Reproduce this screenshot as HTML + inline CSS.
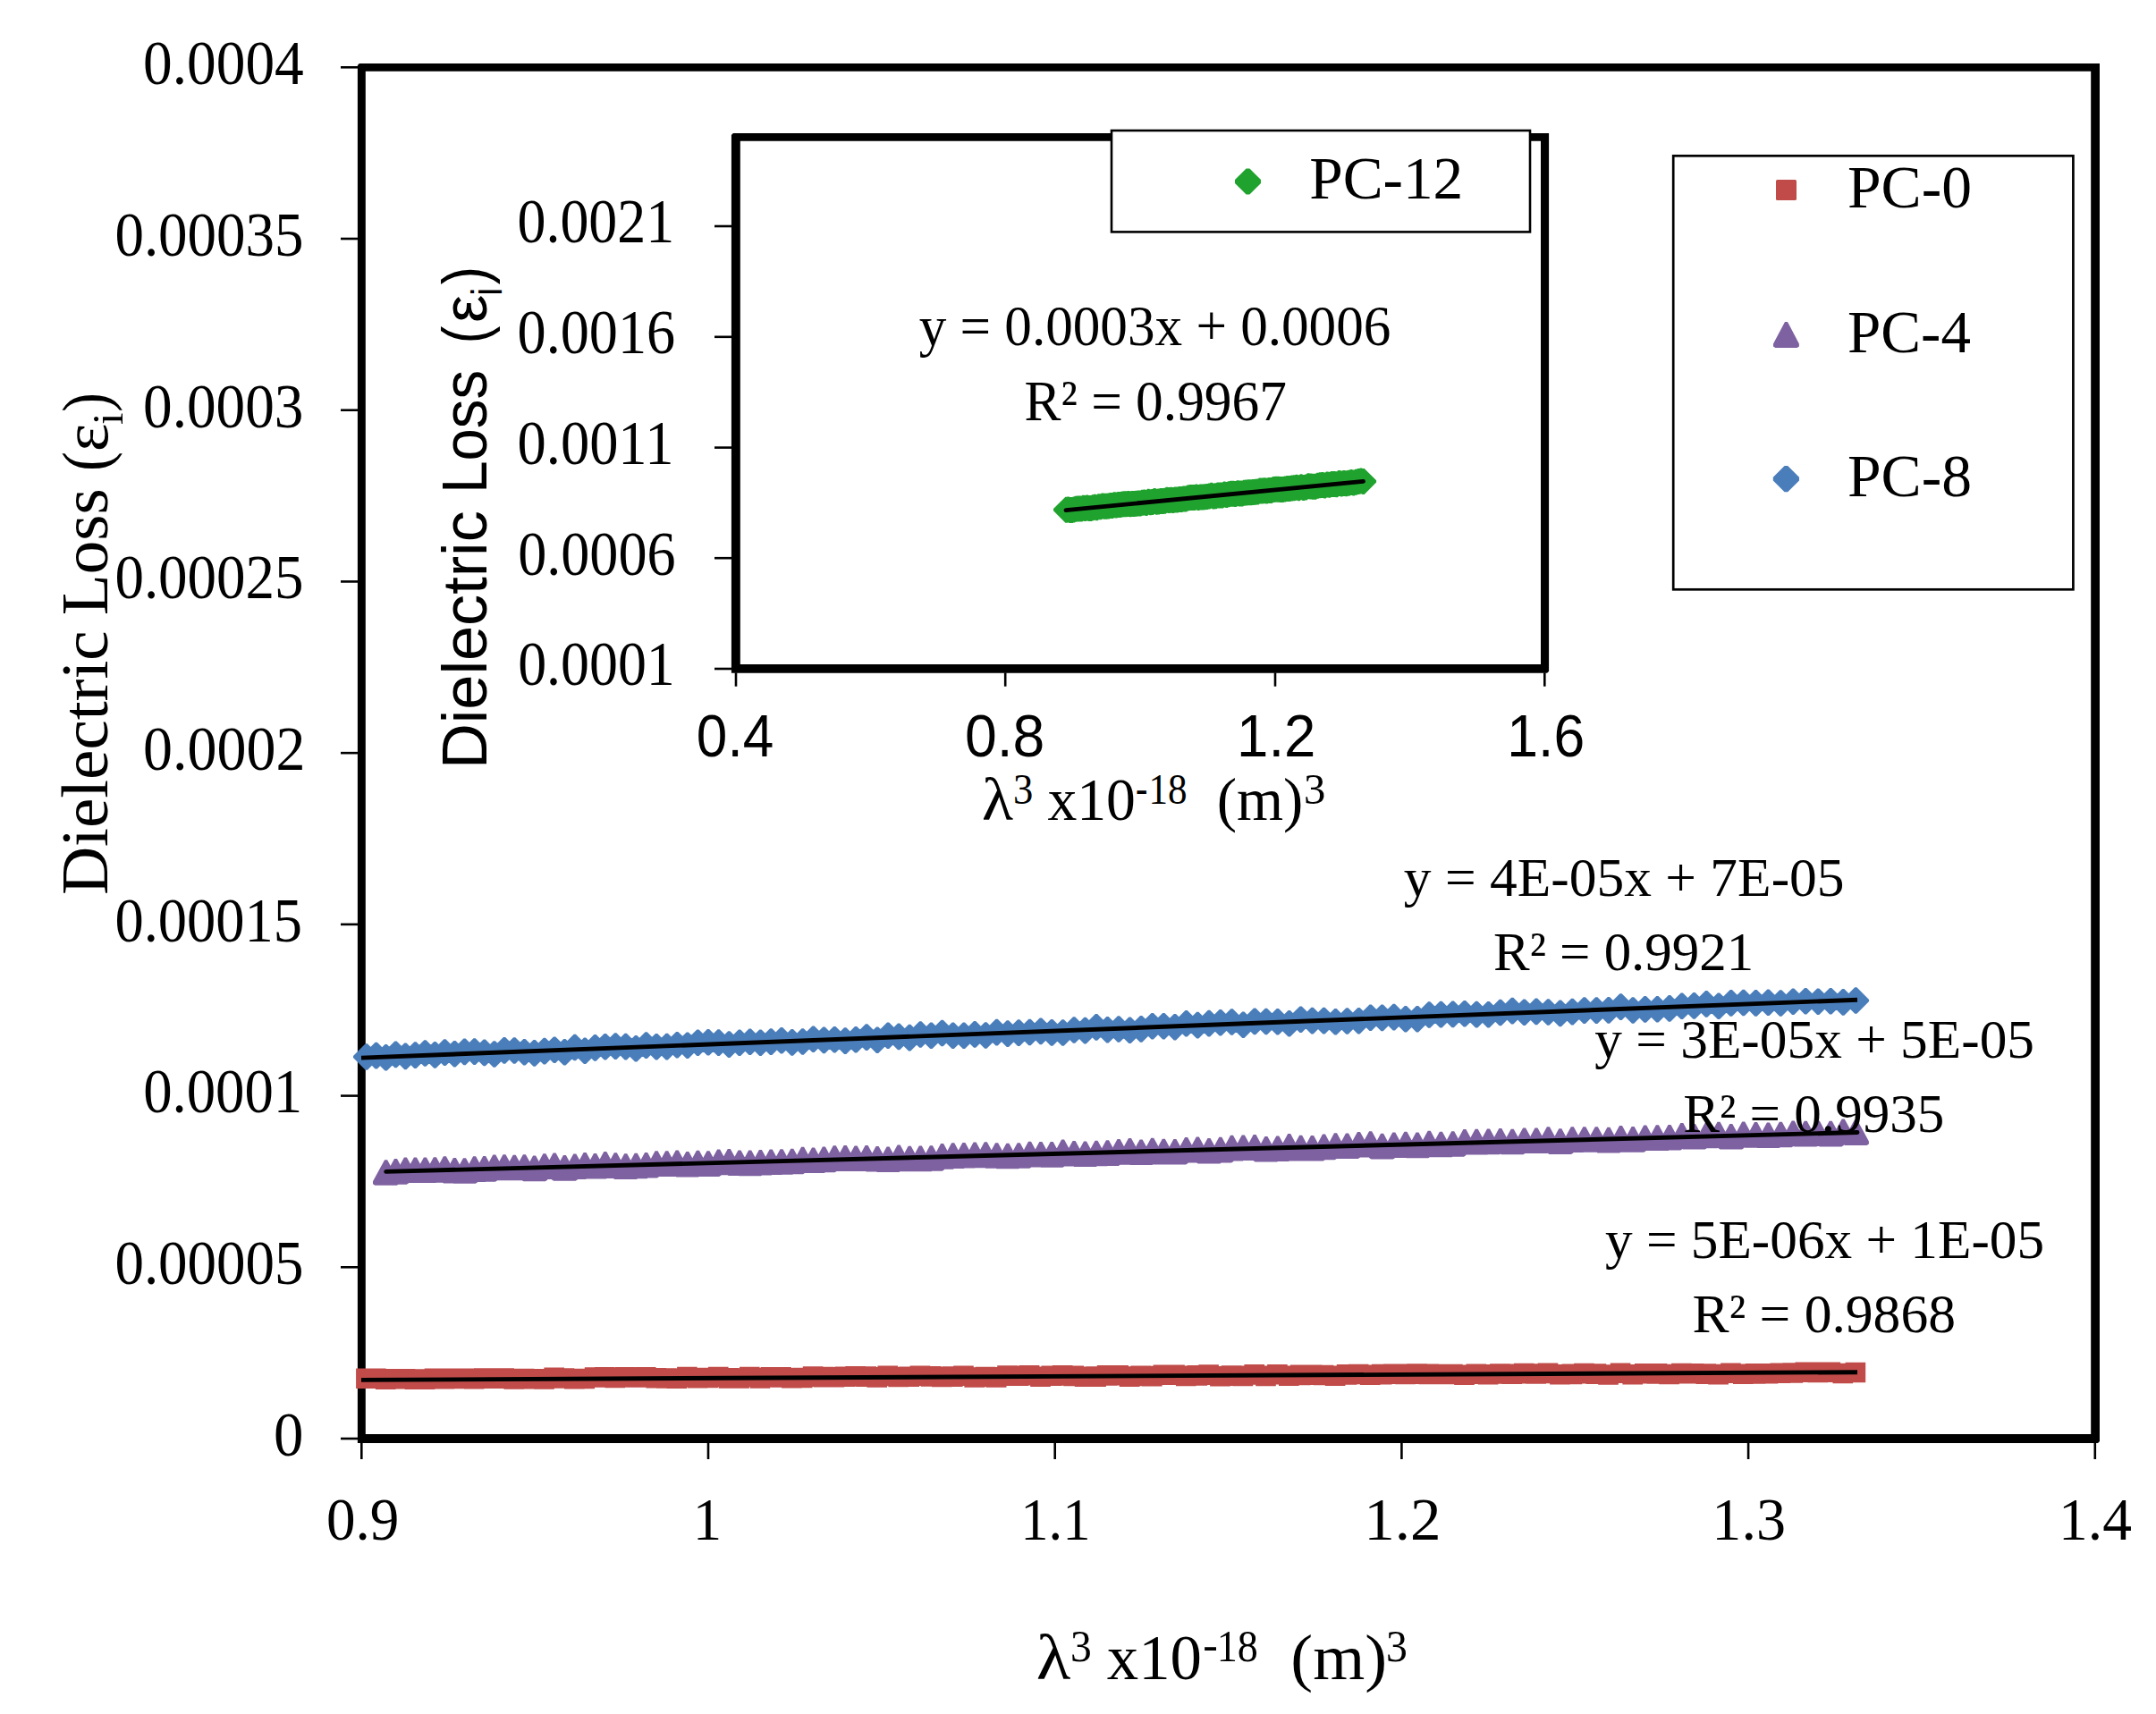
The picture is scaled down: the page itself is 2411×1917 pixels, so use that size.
<!DOCTYPE html>
<html lang="en"><head><meta charset="utf-8"><title>Dielectric Loss vs wavelength cubed</title>
<style>
html,body{margin:0;padding:0;background:#fff;}
svg{display:block}
text{fill:#000;white-space:pre}
</style></head>
<body>
<svg width="2411" height="1917" viewBox="0 0 2411 1917">
<rect width="2411" height="1917" fill="#fff"/>
<g shape-rendering="geometricPrecision">
<path fill-rule="evenodd" d="M401.9 71.1H2348V1611.9L2346 1613.9H399.9V73.1ZM408.8 79.7V1604H2338.2V79.7Z" fill="#000"/>
<line x1="381" x2="400.5" y1="75.30" y2="75.30" stroke="#000" stroke-width="2.6"/>
<line x1="381" x2="400.5" y1="267.01" y2="267.01" stroke="#000" stroke-width="2.6"/>
<line x1="381" x2="400.5" y1="458.73" y2="458.73" stroke="#000" stroke-width="2.6"/>
<line x1="381" x2="400.5" y1="650.44" y2="650.44" stroke="#000" stroke-width="2.6"/>
<line x1="381" x2="400.5" y1="842.15" y2="842.15" stroke="#000" stroke-width="2.6"/>
<line x1="381" x2="400.5" y1="1033.86" y2="1033.86" stroke="#000" stroke-width="2.6"/>
<line x1="381" x2="400.5" y1="1225.58" y2="1225.58" stroke="#000" stroke-width="2.6"/>
<line x1="381" x2="400.5" y1="1417.29" y2="1417.29" stroke="#000" stroke-width="2.6"/>
<line x1="381" x2="400.5" y1="1609.00" y2="1609.00" stroke="#000" stroke-width="2.6"/>
<line x1="404.30" x2="404.30" y1="1613" y2="1632" stroke="#000" stroke-width="2.6"/>
<line x1="792.00" x2="792.00" y1="1613" y2="1632" stroke="#000" stroke-width="2.6"/>
<line x1="1179.70" x2="1179.70" y1="1613" y2="1632" stroke="#000" stroke-width="2.6"/>
<line x1="1567.40" x2="1567.40" y1="1613" y2="1632" stroke="#000" stroke-width="2.6"/>
<line x1="1955.10" x2="1955.10" y1="1613" y2="1632" stroke="#000" stroke-width="2.6"/>
<line x1="2342.80" x2="2342.80" y1="1613" y2="1632" stroke="#000" stroke-width="2.6"/>
<path d="M395.0 1180.9L408.7 1167.2H410.9L424.6 1180.9V1183.1L410.9 1196.8H408.7L395.0 1183.1ZM405.9 1179.5L419.6 1165.8H421.8L435.5 1179.5V1181.7L421.8 1195.4H419.6L405.9 1181.7ZM416.8 1181.7L430.5 1168.0H432.7L446.4 1181.7V1183.9L432.7 1197.6H430.5L416.8 1183.9ZM427.7 1178.3L441.4 1164.6H443.6L457.3 1178.3V1180.5L443.6 1194.2H441.4L427.7 1180.5ZM438.6 1180.3L452.3 1166.6H454.5L468.2 1180.3V1182.5L454.5 1196.2H452.3L438.6 1182.5ZM449.6 1179.0L463.3 1165.3H465.5L479.2 1179.0V1181.2L465.5 1194.9H463.3L449.6 1181.2ZM460.6 1176.9L474.3 1163.2H476.5L490.2 1176.9V1179.1L476.5 1192.8H474.3L460.6 1179.1ZM471.6 1178.8L485.3 1165.1H487.5L501.2 1178.8V1181.0L487.5 1194.7H485.3L471.6 1181.0ZM482.6 1176.0L496.3 1162.3H498.5L512.2 1176.0V1178.2L498.5 1191.9H496.3L482.6 1178.2ZM493.6 1177.6L507.3 1163.9H509.5L523.2 1177.6V1179.8L509.5 1193.5H507.3L493.6 1179.8ZM504.7 1175.3L518.4 1161.6H520.6L534.3 1175.3V1177.5L520.6 1191.2H518.4L504.7 1177.5ZM515.8 1175.0L529.5 1161.3H531.7L545.4 1175.0V1177.2L531.7 1190.9H529.5L515.8 1177.2ZM526.9 1176.3L540.6 1162.6H542.8L556.5 1176.3V1178.5L542.8 1192.2H540.6L526.9 1178.5ZM538.0 1177.9L551.7 1164.2H553.9L567.6 1177.9V1180.1L553.9 1193.8H551.7L538.0 1180.1ZM549.2 1173.8L562.9 1160.1H565.1L578.8 1173.8V1176.0L565.1 1189.7H562.9L549.2 1176.0ZM560.4 1173.9L574.1 1160.2H576.3L590.0 1173.9V1176.1L576.3 1189.8H574.1L560.4 1176.1ZM571.6 1175.6L585.3 1161.9H587.5L601.2 1175.6V1177.8L587.5 1191.5H585.3L571.6 1177.8ZM582.8 1176.8L596.5 1163.1H598.7L612.4 1176.8V1179.0L598.7 1192.7H596.5L582.8 1179.0ZM594.1 1174.5L607.8 1160.8H610.0L623.7 1174.5V1176.7L610.0 1190.4H607.8L594.1 1176.7ZM605.3 1173.1L619.0 1159.4H621.2L634.9 1173.1V1175.3L621.2 1189.0H619.0L605.3 1175.3ZM616.6 1175.7L630.3 1162.0H632.5L646.2 1175.7V1177.9L632.5 1191.6H630.3L616.6 1177.9ZM628.0 1170.4L641.7 1156.7H643.9L657.6 1170.4V1172.6L643.9 1186.3H641.7L628.0 1172.6ZM639.3 1174.2L653.0 1160.5H655.2L668.9 1174.2V1176.4L655.2 1190.1H653.0L639.3 1176.4ZM650.7 1170.8L664.4 1157.1H666.6L680.3 1170.8V1173.0L666.6 1186.7H664.4L650.7 1173.0ZM662.0 1169.6L675.7 1155.9H677.9L691.6 1169.6V1171.8L677.9 1185.5H675.7L662.0 1171.8ZM673.5 1169.0L687.2 1155.3H689.4L703.1 1169.0V1171.2L689.4 1184.9H687.2L673.5 1171.2ZM684.9 1169.5L698.6 1155.8H700.8L714.5 1169.5V1171.7L700.8 1185.4H698.6L684.9 1171.7ZM696.4 1171.7L710.1 1158.0H712.3L726.0 1171.7V1173.9L712.3 1187.6H710.1L696.4 1173.9ZM707.8 1168.0L721.5 1154.3H723.7L737.4 1168.0V1170.2L723.7 1183.9H721.5L707.8 1170.2ZM719.3 1169.6L733.0 1155.9H735.2L748.9 1169.6V1171.8L735.2 1185.5H733.0L719.3 1171.8ZM730.9 1169.5L744.6 1155.8H746.8L760.5 1169.5V1171.7L746.8 1185.4H744.6L730.9 1171.7ZM742.4 1167.6L756.1 1153.9H758.3L772.0 1167.6V1169.8L758.3 1183.5H756.1L742.4 1169.8ZM754.0 1168.1L767.7 1154.4H769.9L783.6 1168.1V1170.3L769.9 1184.0H767.7L754.0 1170.3ZM765.6 1165.1L779.3 1151.4H781.5L795.2 1165.1V1167.3L781.5 1181.0H779.3L765.6 1167.3ZM777.2 1164.7L790.9 1151.0H793.1L806.8 1164.7V1166.9L793.1 1180.6H790.9L777.2 1166.9ZM788.8 1165.0L802.5 1151.3H804.7L818.4 1165.0V1167.2L804.7 1180.9H802.5L788.8 1167.2ZM800.5 1167.0L814.2 1153.3H816.4L830.1 1167.0V1169.2L816.4 1182.9H814.2L800.5 1169.2ZM812.2 1165.2L825.9 1151.5H828.1L841.8 1165.2V1167.4L828.1 1181.1H825.9L812.2 1167.4ZM823.9 1164.2L837.6 1150.5H839.8L853.5 1164.2V1166.4L839.8 1180.1H837.6L823.9 1166.4ZM835.6 1165.1L849.3 1151.4H851.5L865.2 1165.1V1167.3L851.5 1181.0H849.3L835.6 1167.3ZM847.4 1164.0L861.1 1150.3H863.3L877.0 1164.0V1166.2L863.3 1179.9H861.1L847.4 1166.2ZM859.2 1162.7L872.9 1149.0H875.1L888.8 1162.7V1164.9L875.1 1178.6H872.9L859.2 1164.9ZM871.0 1164.8L884.7 1151.1H886.9L900.6 1164.8V1167.0L886.9 1180.7H884.7L871.0 1167.0ZM882.8 1163.9L896.5 1150.2H898.7L912.4 1163.9V1166.1L898.7 1179.8H896.5L882.8 1166.1ZM894.7 1161.1L908.4 1147.4H910.6L924.3 1161.1V1163.3L910.6 1177.0H908.4L894.7 1163.3ZM906.6 1162.3L920.3 1148.6H922.5L936.2 1162.3V1164.5L922.5 1178.2H920.3L906.6 1164.5ZM918.5 1161.6L932.2 1147.9H934.4L948.1 1161.6V1163.8L934.4 1177.5H932.2L918.5 1163.8ZM930.4 1163.0L944.1 1149.3H946.3L960.0 1163.0V1165.2L946.3 1178.9H944.1L930.4 1165.2ZM942.3 1161.7L956.0 1148.0H958.2L971.9 1161.7V1163.9L958.2 1177.6H956.0L942.3 1163.9ZM954.3 1159.0L968.0 1145.3H970.2L983.9 1159.0V1161.2L970.2 1174.9H968.0L954.3 1161.2ZM966.3 1162.1L980.0 1148.4H982.2L995.9 1162.1V1164.3L982.2 1178.0H980.0L966.3 1164.3ZM978.3 1157.2L992.0 1143.5H994.2L1007.9 1157.2V1159.4L994.2 1173.1H992.0L978.3 1159.4ZM990.3 1158.3L1004.0 1144.6H1006.2L1019.9 1158.3V1160.5L1006.2 1174.2H1004.0L990.3 1160.5ZM1002.4 1159.5L1016.1 1145.8H1018.3L1032.0 1159.5V1161.7L1018.3 1175.4H1016.1L1002.4 1161.7ZM1014.5 1155.9L1028.2 1142.2H1030.4L1044.1 1155.9V1158.1L1030.4 1171.8H1028.2L1014.5 1158.1ZM1026.6 1157.2L1040.3 1143.5H1042.5L1056.2 1157.2V1159.4L1042.5 1173.1H1040.3L1026.6 1159.4ZM1038.8 1154.4L1052.5 1140.7H1054.7L1068.4 1154.4V1156.6L1054.7 1170.3H1052.5L1038.8 1156.6ZM1050.9 1157.2L1064.6 1143.5H1066.8L1080.5 1157.2V1159.4L1066.8 1173.1H1064.6L1050.9 1159.4ZM1063.1 1157.2L1076.8 1143.5H1079.0L1092.7 1157.2V1159.4L1079.0 1173.1H1076.8L1063.1 1159.4ZM1075.3 1155.8L1089.0 1142.1H1091.2L1104.9 1155.8V1158.0L1091.2 1171.7H1089.0L1075.3 1158.0ZM1087.5 1156.9L1101.2 1143.2H1103.4L1117.1 1156.9V1159.1L1103.4 1172.8H1101.2L1087.5 1159.1ZM1099.8 1153.5L1113.5 1139.8H1115.7L1129.4 1153.5V1155.7L1115.7 1169.4H1113.5L1099.8 1155.7ZM1112.1 1155.0L1125.8 1141.3H1128.0L1141.7 1155.0V1157.2L1128.0 1170.9H1125.8L1112.1 1157.2ZM1124.4 1154.0L1138.1 1140.3H1140.3L1154.0 1154.0V1156.2L1140.3 1169.9H1138.1L1124.4 1156.2ZM1136.7 1153.4L1150.4 1139.7H1152.6L1166.3 1153.4V1155.6L1152.6 1169.3H1150.4L1136.7 1155.6ZM1149.1 1152.3L1162.8 1138.6H1165.0L1178.7 1152.3V1154.5L1165.0 1168.2H1162.8L1149.1 1154.5ZM1161.4 1153.8L1175.1 1140.1H1177.3L1191.0 1153.8V1156.0L1177.3 1169.7H1175.1L1161.4 1156.0ZM1173.8 1153.9L1187.5 1140.2H1189.7L1203.4 1153.9V1156.1L1189.7 1169.8H1187.5L1173.8 1156.1ZM1186.3 1150.9L1200.0 1137.2H1202.2L1215.9 1150.9V1153.1L1202.2 1166.8H1200.0L1186.3 1153.1ZM1198.7 1151.5L1212.4 1137.8H1214.6L1228.3 1151.5V1153.7L1214.6 1167.4H1212.4L1198.7 1153.7ZM1211.2 1147.8L1224.9 1134.1H1227.1L1240.8 1147.8V1150.0L1227.1 1163.7H1224.9L1211.2 1150.0ZM1223.7 1150.7L1237.4 1137.0H1239.6L1253.3 1150.7V1152.9L1239.6 1166.6H1237.4L1223.7 1152.9ZM1236.2 1149.9L1249.9 1136.2H1252.1L1265.8 1149.9V1152.1L1252.1 1165.8H1249.9L1236.2 1152.1ZM1248.7 1151.2L1262.4 1137.5H1264.6L1278.3 1151.2V1153.4L1264.6 1167.1H1262.4L1248.7 1153.4ZM1261.3 1149.8L1275.0 1136.1H1277.2L1290.9 1149.8V1152.0L1277.2 1165.7H1275.0L1261.3 1152.0ZM1273.9 1146.6L1287.6 1132.9H1289.8L1303.5 1146.6V1148.8L1289.8 1162.5H1287.6L1273.9 1148.8ZM1286.5 1146.6L1300.2 1132.9H1302.4L1316.1 1146.6V1148.8L1302.4 1162.5H1300.2L1286.5 1148.8ZM1299.1 1147.6L1312.8 1133.9H1315.0L1328.7 1147.6V1149.8L1315.0 1163.5H1312.8L1299.1 1149.8ZM1311.8 1143.7L1325.5 1130.0H1327.7L1341.4 1143.7V1145.9L1327.7 1159.6H1325.5L1311.8 1145.9ZM1324.5 1145.5L1338.2 1131.8H1340.4L1354.1 1145.5V1147.7L1340.4 1161.4H1338.2L1324.5 1147.7ZM1337.2 1143.5L1350.9 1129.8H1353.1L1366.8 1143.5V1145.7L1353.1 1159.4H1350.9L1337.2 1145.7ZM1350.0 1142.7L1363.7 1129.0H1365.9L1379.6 1142.7V1144.9L1365.9 1158.6H1363.7L1350.0 1144.9ZM1362.7 1141.9L1376.4 1128.2H1378.6L1392.3 1141.9V1144.1L1378.6 1157.8H1376.4L1362.7 1144.1ZM1375.5 1145.1L1389.2 1131.4H1391.4L1405.1 1145.1V1147.3L1391.4 1161.0H1389.2L1375.5 1147.3ZM1388.3 1141.3L1402.0 1127.6H1404.2L1417.9 1141.3V1143.5L1404.2 1157.2H1402.0L1388.3 1143.5ZM1401.1 1141.4L1414.8 1127.7H1417.0L1430.7 1141.4V1143.6L1417.0 1157.3H1414.8L1401.1 1143.6ZM1414.0 1141.7L1427.7 1128.0H1429.9L1443.6 1141.7V1143.9L1429.9 1157.6H1427.7L1414.0 1143.9ZM1426.9 1143.7L1440.6 1130.0H1442.8L1456.5 1143.7V1145.9L1442.8 1159.6H1440.6L1426.9 1145.9ZM1439.8 1139.1L1453.5 1125.4H1455.7L1469.4 1139.1V1141.3L1455.7 1155.0H1453.5L1439.8 1141.3ZM1452.7 1140.5L1466.4 1126.8H1468.6L1482.3 1140.5V1142.7L1468.6 1156.4H1466.4L1452.7 1142.7ZM1465.7 1140.5L1479.4 1126.8H1481.6L1495.3 1140.5V1142.7L1481.6 1156.4H1479.4L1465.7 1142.7ZM1478.7 1141.7L1492.4 1128.0H1494.6L1508.3 1141.7V1143.9L1494.6 1157.6H1492.4L1478.7 1143.9ZM1491.7 1140.9L1505.4 1127.2H1507.6L1521.3 1140.9V1143.1L1507.6 1156.8H1505.4L1491.7 1143.1ZM1504.7 1140.6L1518.4 1126.9H1520.6L1534.3 1140.6V1142.8L1520.6 1156.5H1518.4L1504.7 1142.8ZM1517.8 1137.1L1531.5 1123.4H1533.7L1547.4 1137.1V1139.3L1533.7 1153.0H1531.5L1517.8 1139.3ZM1530.8 1137.3L1544.5 1123.6H1546.7L1560.4 1137.3V1139.5L1546.7 1153.2H1544.5L1530.8 1139.5ZM1544.0 1136.5L1557.7 1122.8H1559.9L1573.6 1136.5V1138.7L1559.9 1152.4H1557.7L1544.0 1138.7ZM1557.1 1138.7L1570.8 1125.0H1573.0L1586.7 1138.7V1140.9L1573.0 1154.6H1570.8L1557.1 1140.9ZM1570.2 1138.6L1583.9 1124.9H1586.1L1599.8 1138.6V1140.8L1586.1 1154.5H1583.9L1570.2 1140.8ZM1583.4 1133.9L1597.1 1120.2H1599.3L1613.0 1133.9V1136.1L1599.3 1149.8H1597.1L1583.4 1136.1ZM1596.6 1133.5L1610.3 1119.8H1612.5L1626.2 1133.5V1135.7L1612.5 1149.4H1610.3L1596.6 1135.7ZM1609.9 1133.3L1623.6 1119.6H1625.8L1639.5 1133.3V1135.5L1625.8 1149.2H1623.6L1609.9 1135.5ZM1623.1 1132.7L1636.8 1119.0H1639.0L1652.7 1132.7V1134.9L1639.0 1148.6H1636.8L1623.1 1134.9ZM1636.4 1133.5L1650.1 1119.8H1652.3L1666.0 1133.5V1135.7L1652.3 1149.4H1650.1L1636.4 1135.7ZM1649.7 1133.6L1663.4 1119.9H1665.6L1679.3 1133.6V1135.8L1665.6 1149.5H1663.4L1649.7 1135.8ZM1663.0 1131.4L1676.7 1117.7H1678.9L1692.6 1131.4V1133.6L1678.9 1147.3H1676.7L1663.0 1133.6ZM1676.4 1129.5L1690.1 1115.8H1692.3L1706.0 1129.5V1131.7L1692.3 1145.4H1690.1L1676.4 1131.7ZM1689.8 1131.1L1703.5 1117.4H1705.7L1719.4 1131.1V1133.3L1705.7 1147.0H1703.5L1689.8 1133.3ZM1703.2 1130.3L1716.9 1116.6H1719.1L1732.8 1130.3V1132.5L1719.1 1146.2H1716.9L1703.2 1132.5ZM1716.6 1130.9L1730.3 1117.2H1732.5L1746.2 1130.9V1133.1L1732.5 1146.8H1730.3L1716.6 1133.1ZM1730.0 1132.3L1743.7 1118.6H1745.9L1759.6 1132.3V1134.5L1745.9 1148.2H1743.7L1730.0 1134.5ZM1743.5 1130.5L1757.2 1116.8H1759.4L1773.1 1130.5V1132.7L1759.4 1146.4H1757.2L1743.5 1132.7ZM1757.0 1129.0L1770.7 1115.3H1772.9L1786.6 1129.0V1131.2L1772.9 1144.9H1770.7L1757.0 1131.2ZM1770.5 1129.0L1784.2 1115.3H1786.4L1800.1 1129.0V1131.2L1786.4 1144.9H1784.2L1770.5 1131.2ZM1784.1 1128.8L1797.8 1115.1H1800.0L1813.7 1128.8V1131.0L1800.0 1144.7H1797.8L1784.1 1131.0ZM1797.7 1125.0L1811.4 1111.3H1813.6L1827.3 1125.0V1127.2L1813.6 1140.9H1811.4L1797.7 1127.2ZM1811.3 1128.9L1825.0 1115.2H1827.2L1840.9 1128.9V1131.1L1827.2 1144.8H1825.0L1811.3 1131.1ZM1824.9 1127.8L1838.6 1114.1H1840.8L1854.5 1127.8V1130.0L1840.8 1143.7H1838.6L1824.9 1130.0ZM1838.6 1127.7L1852.3 1114.0H1854.5L1868.2 1127.7V1129.9L1854.5 1143.6H1852.3L1838.6 1129.9ZM1852.2 1126.8L1865.9 1113.1H1868.1L1881.8 1126.8V1129.0L1868.1 1142.7H1865.9L1852.2 1129.0ZM1866.0 1124.2L1879.7 1110.5H1881.9L1895.6 1124.2V1126.4L1881.9 1140.1H1879.7L1866.0 1126.4ZM1879.7 1123.8L1893.4 1110.1H1895.6L1909.3 1123.8V1126.0L1895.6 1139.7H1893.4L1879.7 1126.0ZM1893.4 1121.8L1907.1 1108.1H1909.3L1923.0 1121.8V1124.0L1909.3 1137.7H1907.1L1893.4 1124.0ZM1907.2 1124.1L1920.9 1110.4H1923.1L1936.8 1124.1V1126.3L1923.1 1140.0H1920.9L1907.2 1126.3ZM1921.0 1120.8L1934.7 1107.1H1936.9L1950.6 1120.8V1123.0L1936.9 1136.7H1934.7L1921.0 1123.0ZM1934.9 1120.4L1948.6 1106.7H1950.8L1964.5 1120.4V1122.6L1950.8 1136.3H1948.6L1934.9 1122.6ZM1948.7 1120.8L1962.4 1107.1H1964.6L1978.3 1120.8V1123.0L1964.6 1136.7H1962.4L1948.7 1123.0ZM1962.6 1120.2L1976.3 1106.5H1978.5L1992.2 1120.2V1122.4L1978.5 1136.1H1976.3L1962.6 1122.4ZM1976.5 1120.9L1990.2 1107.2H1992.4L2006.1 1120.9V1123.1L1992.4 1136.8H1990.2L1976.5 1123.1ZM1990.4 1119.1L2004.1 1105.4H2006.3L2020.0 1119.1V1121.3L2006.3 1135.0H2004.1L1990.4 1121.3ZM2004.4 1118.6L2018.1 1104.9H2020.3L2034.0 1118.6V1120.8L2020.3 1134.5H2018.1L2004.4 1120.8ZM2018.4 1119.1L2032.1 1105.4H2034.3L2048.0 1119.1V1121.3L2034.3 1135.0H2032.1L2018.4 1121.3ZM2032.4 1118.6L2046.1 1104.9H2048.3L2062.0 1118.6V1120.8L2048.3 1134.5H2046.1L2032.4 1120.8ZM2046.4 1119.8L2060.1 1106.1H2062.3L2076.0 1119.8V1122.0L2062.3 1135.7H2060.1L2046.4 1122.0ZM2060.5 1117.9L2074.2 1104.2H2076.4L2090.1 1117.9V1120.1L2076.4 1133.8H2074.2L2060.5 1120.1Z" fill="#4a7ebb"/>
<line x1="404" y1="1183.1" x2="2077" y2="1118.2" stroke="#000" stroke-width="4.9"/>
<path d="M430.1 1297.2H433.1L446.2 1321.3V1324.3L443.8 1325.8H419.4L417.0 1324.3V1321.3ZM441.0 1296.1H444.0L457.1 1320.2V1323.2L454.7 1324.7H430.3L427.9 1323.2V1320.2ZM451.9 1294.4H454.9L468.0 1318.5V1321.5L465.6 1323.0H441.2L438.8 1321.5V1318.5ZM462.9 1294.4H465.9L479.0 1318.5V1321.5L476.6 1323.0H452.2L449.8 1321.5V1318.5ZM473.9 1294.4H476.9L490.0 1318.5V1321.5L487.6 1323.0H463.2L460.8 1321.5V1318.5ZM484.9 1294.2H487.9L501.0 1318.3V1321.3L498.6 1322.8H474.2L471.8 1321.3V1318.3ZM495.9 1293.2H498.9L512.0 1317.3V1320.3L509.6 1321.8H485.2L482.8 1320.3V1317.3ZM506.9 1295.0H509.9L523.0 1319.1V1322.1L520.6 1323.6H496.2L493.8 1322.1V1319.1ZM518.0 1295.2H521.0L534.1 1319.3V1322.3L531.7 1323.8H507.3L504.9 1322.3V1319.3ZM529.1 1293.3H532.1L545.2 1317.4V1320.4L542.8 1321.9H518.4L516.0 1320.4V1317.4ZM540.2 1293.1H543.2L556.3 1317.2V1320.2L553.9 1321.7H529.5L527.1 1320.2V1317.2ZM551.3 1291.6H554.3L567.4 1315.7V1318.7L565.0 1320.2H540.6L538.2 1318.7V1315.7ZM562.5 1291.3H565.5L578.6 1315.4V1318.4L576.2 1319.9H551.8L549.4 1318.4V1315.4ZM573.7 1291.7H576.7L589.8 1315.8V1318.8L587.4 1320.3H563.0L560.6 1318.8V1315.8ZM584.9 1291.2H587.9L601.0 1315.3V1318.3L598.6 1319.8H574.2L571.8 1318.3V1315.3ZM596.1 1292.6H599.1L612.2 1316.7V1319.7L609.8 1321.2H585.4L583.0 1319.7V1316.7ZM607.4 1290.3H610.4L623.5 1314.4V1317.4L621.1 1318.9H596.7L594.3 1317.4V1314.4ZM618.6 1289.6H621.6L634.7 1313.7V1316.7L632.3 1318.2H607.9L605.5 1316.7V1313.7ZM629.9 1292.1H632.9L646.0 1316.2V1319.2L643.6 1320.7H619.2L616.8 1319.2V1316.2ZM641.3 1290.5H644.3L657.4 1314.6V1317.6L655.0 1319.1H630.6L628.2 1317.6V1314.6ZM652.6 1289.0H655.6L668.7 1313.1V1316.1L666.3 1317.6H641.9L639.5 1316.1V1313.1ZM664.0 1289.9H667.0L680.1 1314.0V1317.0L677.7 1318.5H653.3L650.9 1317.0V1314.0ZM675.3 1288.1H678.3L691.4 1312.2V1315.2L689.0 1316.7H664.6L662.2 1315.2V1312.2ZM686.8 1289.3H689.8L702.9 1313.4V1316.4L700.5 1317.9H676.1L673.7 1316.4V1313.4ZM698.2 1290.3H701.2L714.3 1314.4V1317.4L711.9 1318.9H687.5L685.1 1317.4V1314.4ZM709.7 1289.7H712.7L725.8 1313.8V1316.8L723.4 1318.3H699.0L696.6 1316.8V1313.8ZM721.1 1288.9H724.1L737.2 1313.0V1316.0L734.8 1317.5H710.4L708.0 1316.0V1313.0ZM732.6 1287.3H735.6L748.7 1311.4V1314.4L746.3 1315.9H721.9L719.5 1314.4V1311.4ZM744.2 1287.3H747.2L760.3 1311.4V1314.4L757.9 1315.9H733.5L731.1 1314.4V1311.4ZM755.7 1286.4H758.7L771.8 1310.5V1313.5L769.4 1315.0H745.0L742.6 1313.5V1310.5ZM767.3 1287.9H770.3L783.4 1312.0V1315.0L781.0 1316.5H756.6L754.2 1315.0V1312.0ZM778.9 1286.8H781.9L795.0 1310.9V1313.9L792.6 1315.4H768.2L765.8 1313.9V1310.9ZM790.5 1287.3H793.5L806.6 1311.4V1314.4L804.2 1315.9H779.8L777.4 1314.4V1311.4ZM802.1 1285.6H805.1L818.2 1309.7V1312.7L815.8 1314.2H791.4L789.0 1312.7V1309.7ZM813.8 1285.0H816.8L829.9 1309.1V1312.1L827.5 1313.6H803.1L800.7 1312.1V1309.1ZM825.5 1286.4H828.5L841.6 1310.5V1313.5L839.2 1315.0H814.8L812.4 1313.5V1310.5ZM837.2 1286.6H840.2L853.3 1310.7V1313.7L850.9 1315.2H826.5L824.1 1313.7V1310.7ZM848.9 1285.9H851.9L865.0 1310.0V1313.0L862.6 1314.5H838.2L835.8 1313.0V1310.0ZM860.7 1285.5H863.7L876.8 1309.6V1312.6L874.4 1314.1H850.0L847.6 1312.6V1309.6ZM872.5 1285.2H875.5L888.6 1309.3V1312.3L886.2 1313.8H861.8L859.4 1312.3V1309.3ZM884.3 1284.7H887.3L900.4 1308.8V1311.8L898.0 1313.3H873.6L871.2 1311.8V1308.8ZM896.1 1282.8H899.1L912.2 1306.9V1309.9L909.8 1311.4H885.4L883.0 1309.9V1306.9ZM908.0 1283.4H911.0L924.1 1307.5V1310.5L921.7 1312.0H897.3L894.9 1310.5V1307.5ZM919.9 1282.6H922.9L936.0 1306.7V1309.7L933.6 1311.2H909.2L906.8 1309.7V1306.7ZM931.8 1281.3H934.8L947.9 1305.4V1308.4L945.5 1309.9H921.1L918.7 1308.4V1305.4ZM943.7 1280.9H946.7L959.8 1305.0V1308.0L957.4 1309.5H933.0L930.6 1308.0V1305.0ZM955.6 1281.4H958.6L971.7 1305.5V1308.5L969.3 1310.0H944.9L942.5 1308.5V1305.5ZM967.6 1281.0H970.6L983.7 1305.1V1308.1L981.3 1309.6H956.9L954.5 1308.1V1305.1ZM979.6 1282.0H982.6L995.7 1306.1V1309.1L993.3 1310.6H968.9L966.5 1309.1V1306.1ZM991.6 1282.4H994.6L1007.7 1306.5V1309.5L1005.3 1311.0H980.9L978.5 1309.5V1306.5ZM1003.6 1280.6H1006.6L1019.7 1304.7V1307.7L1017.3 1309.2H992.9L990.5 1307.7V1304.7ZM1015.7 1281.7H1018.7L1031.8 1305.8V1308.8L1029.4 1310.3H1005.0L1002.6 1308.8V1305.8ZM1027.8 1281.6H1030.8L1043.9 1305.7V1308.7L1041.5 1310.2H1017.1L1014.7 1308.7V1305.7ZM1039.9 1281.2H1042.9L1056.0 1305.3V1308.3L1053.6 1309.8H1029.2L1026.8 1308.3V1305.3ZM1052.1 1279.1H1055.1L1068.2 1303.2V1306.2L1065.8 1307.7H1041.4L1039.0 1306.2V1303.2ZM1064.2 1278.3H1067.2L1080.3 1302.4V1305.4L1077.9 1306.9H1053.5L1051.1 1305.4V1302.4ZM1076.4 1278.0H1079.4L1092.5 1302.1V1305.1L1090.1 1306.6H1065.7L1063.3 1305.1V1302.1ZM1088.6 1277.6H1091.6L1104.7 1301.7V1304.7L1102.3 1306.2H1077.9L1075.5 1304.7V1301.7ZM1100.8 1277.3H1103.8L1116.9 1301.4V1304.4L1114.5 1305.9H1090.1L1087.7 1304.4V1301.4ZM1113.1 1278.2H1116.1L1129.2 1302.3V1305.3L1126.8 1306.8H1102.4L1100.0 1305.3V1302.3ZM1125.4 1278.7H1128.4L1141.5 1302.8V1305.8L1139.1 1307.3H1114.7L1112.3 1305.8V1302.8ZM1137.7 1278.2H1140.7L1153.8 1302.3V1305.3L1151.4 1306.8H1127.0L1124.6 1305.3V1302.3ZM1150.0 1276.8H1153.0L1166.1 1300.9V1303.9L1163.7 1305.4H1139.3L1136.9 1303.9V1300.9ZM1162.4 1277.0H1165.4L1178.5 1301.1V1304.1L1176.1 1305.6H1151.7L1149.3 1304.1V1301.1ZM1174.7 1277.1H1177.7L1190.8 1301.2V1304.2L1188.4 1305.7H1164.0L1161.6 1304.2V1301.2ZM1187.1 1274.6H1190.1L1203.2 1298.7V1301.7L1200.8 1303.2H1176.4L1174.0 1301.7V1298.7ZM1199.6 1276.0H1202.6L1215.7 1300.1V1303.1L1213.3 1304.6H1188.9L1186.5 1303.1V1300.1ZM1212.0 1276.4H1215.0L1228.1 1300.5V1303.5L1225.7 1305.0H1201.3L1198.9 1303.5V1300.5ZM1224.5 1275.7H1227.5L1240.6 1299.8V1302.8L1238.2 1304.3H1213.8L1211.4 1302.8V1299.8ZM1237.0 1275.3H1240.0L1253.1 1299.4V1302.4L1250.7 1303.9H1226.3L1223.9 1302.4V1299.4ZM1249.5 1274.1H1252.5L1265.6 1298.2V1301.2L1263.2 1302.7H1238.8L1236.4 1301.2V1298.2ZM1262.0 1272.9H1265.0L1278.1 1297.0V1300.0L1275.7 1301.5H1251.3L1248.9 1300.0V1297.0ZM1274.6 1274.4H1277.6L1290.7 1298.5V1301.5L1288.3 1303.0H1263.9L1261.5 1301.5V1298.5ZM1287.2 1272.7H1290.2L1303.3 1296.8V1299.8L1300.9 1301.3H1276.5L1274.1 1299.8V1296.8ZM1299.8 1273.8H1302.8L1315.9 1297.9V1300.9L1313.5 1302.4H1289.1L1286.7 1300.9V1297.9ZM1312.4 1273.9H1315.4L1328.5 1298.0V1301.0L1326.1 1302.5H1301.7L1299.3 1301.0V1298.0ZM1325.1 1271.9H1328.1L1341.2 1296.0V1299.0L1338.8 1300.5H1314.4L1312.0 1299.0V1296.0ZM1337.8 1271.6H1340.8L1353.9 1295.7V1298.7L1351.5 1300.2H1327.1L1324.7 1298.7V1295.7ZM1350.5 1272.9H1353.5L1366.6 1297.0V1300.0L1364.2 1301.5H1339.8L1337.4 1300.0V1297.0ZM1363.3 1271.8H1366.3L1379.4 1295.9V1298.9L1377.0 1300.4H1352.6L1350.2 1298.9V1295.9ZM1376.0 1269.8H1379.0L1392.1 1293.9V1296.9L1389.7 1298.4H1365.3L1362.9 1296.9V1293.9ZM1388.8 1269.4H1391.8L1404.9 1293.5V1296.5L1402.5 1298.0H1378.1L1375.7 1296.5V1293.5ZM1401.6 1269.1H1404.6L1417.7 1293.2V1296.2L1415.3 1297.7H1390.9L1388.5 1296.2V1293.2ZM1414.4 1271.0H1417.4L1430.5 1295.1V1298.1L1428.1 1299.6H1403.7L1401.3 1298.1V1295.1ZM1427.3 1270.4H1430.3L1443.4 1294.5V1297.5L1441.0 1299.0H1416.6L1414.2 1297.5V1294.5ZM1440.2 1268.1H1443.2L1456.3 1292.2V1295.2L1453.9 1296.7H1429.5L1427.1 1295.2V1292.2ZM1453.1 1269.8H1456.1L1469.2 1293.9V1296.9L1466.8 1298.4H1442.4L1440.0 1296.9V1293.9ZM1466.0 1269.9H1469.0L1482.1 1294.0V1297.0L1479.7 1298.5H1455.3L1452.9 1297.0V1294.0ZM1479.0 1268.6H1482.0L1495.1 1292.7V1295.7L1492.7 1297.2H1468.3L1465.9 1295.7V1292.7ZM1492.0 1267.3H1495.0L1508.1 1291.4V1294.4L1505.7 1295.9H1481.3L1478.9 1294.4V1291.4ZM1505.0 1267.5H1508.0L1521.1 1291.6V1294.6L1518.7 1296.1H1494.3L1491.9 1294.6V1291.6ZM1518.0 1265.9H1521.0L1534.1 1290.0V1293.0L1531.7 1294.5H1507.3L1504.9 1293.0V1290.0ZM1531.1 1265.2H1534.1L1547.2 1289.3V1292.3L1544.8 1293.8H1520.4L1518.0 1292.3V1289.3ZM1544.1 1267.8H1547.1L1560.2 1291.9V1294.9L1557.8 1296.4H1533.4L1531.0 1294.9V1291.9ZM1557.3 1266.5H1560.3L1573.4 1290.6V1293.6L1571.0 1295.1H1546.6L1544.2 1293.6V1290.6ZM1570.4 1265.7H1573.4L1586.5 1289.8V1292.8L1584.1 1294.3H1559.7L1557.3 1292.8V1289.8ZM1583.5 1266.6H1586.5L1599.6 1290.7V1293.7L1597.2 1295.2H1572.8L1570.4 1293.7V1290.7ZM1596.7 1264.8H1599.7L1612.8 1288.9V1291.9L1610.4 1293.4H1586.0L1583.6 1291.9V1288.9ZM1609.9 1265.7H1612.9L1626.0 1289.8V1292.8L1623.6 1294.3H1599.2L1596.8 1292.8V1289.8ZM1623.2 1265.2H1626.2L1639.3 1289.3V1292.3L1636.9 1293.8H1612.5L1610.1 1292.3V1289.3ZM1636.4 1263.0H1639.4L1652.5 1287.1V1290.1L1650.1 1291.6H1625.7L1623.3 1290.1V1287.1ZM1649.7 1262.8H1652.7L1665.8 1286.9V1289.9L1663.4 1291.4H1639.0L1636.6 1289.9V1286.9ZM1663.0 1262.6H1666.0L1679.1 1286.7V1289.7L1676.7 1291.2H1652.3L1649.9 1289.7V1286.7ZM1676.3 1262.1H1679.3L1692.4 1286.2V1289.2L1690.0 1290.7H1665.6L1663.2 1289.2V1286.2ZM1689.7 1262.7H1692.7L1705.8 1286.8V1289.8L1703.4 1291.3H1679.0L1676.6 1289.8V1286.8ZM1703.1 1261.4H1706.1L1719.2 1285.5V1288.5L1716.8 1290.0H1692.4L1690.0 1288.5V1285.5ZM1716.5 1261.5H1719.5L1732.6 1285.6V1288.6L1730.2 1290.1H1705.8L1703.4 1288.6V1285.6ZM1729.9 1260.3H1732.9L1746.0 1284.4V1287.4L1743.6 1288.9H1719.2L1716.8 1287.4V1284.4ZM1743.3 1262.3H1746.3L1759.4 1286.4V1289.4L1757.0 1290.9H1732.6L1730.2 1289.4V1286.4ZM1756.8 1260.3H1759.8L1772.9 1284.4V1287.4L1770.5 1288.9H1746.1L1743.7 1287.4V1284.4ZM1770.3 1260.2H1773.3L1786.4 1284.3V1287.3L1784.0 1288.8H1759.6L1757.2 1287.3V1284.3ZM1783.8 1260.2H1786.8L1799.9 1284.3V1287.3L1797.5 1288.8H1773.1L1770.7 1287.3V1284.3ZM1797.4 1260.8H1800.4L1813.5 1284.9V1287.9L1811.1 1289.4H1786.7L1784.3 1287.9V1284.9ZM1811.0 1259.0H1814.0L1827.1 1283.1V1286.1L1824.7 1287.6H1800.3L1797.9 1286.1V1283.1ZM1824.6 1260.1H1827.6L1840.7 1284.2V1287.2L1838.3 1288.7H1813.9L1811.5 1287.2V1284.2ZM1838.2 1258.5H1841.2L1854.3 1282.6V1285.6L1851.9 1287.1H1827.5L1825.1 1285.6V1282.6ZM1851.9 1258.3H1854.9L1868.0 1282.4V1285.4L1865.6 1286.9H1841.2L1838.8 1285.4V1282.4ZM1865.5 1257.9H1868.5L1881.6 1282.0V1285.0L1879.2 1286.5H1854.8L1852.4 1285.0V1282.0ZM1879.3 1256.0H1882.3L1895.4 1280.1V1283.1L1893.0 1284.6H1868.6L1866.2 1283.1V1280.1ZM1893.0 1256.9H1896.0L1909.1 1281.0V1284.0L1906.7 1285.5H1882.3L1879.9 1284.0V1281.0ZM1906.7 1255.7H1909.7L1922.8 1279.8V1282.8L1920.4 1284.3H1896.0L1893.6 1282.8V1279.8ZM1920.5 1254.8H1923.5L1936.6 1278.9V1281.9L1934.2 1283.4H1909.8L1907.4 1281.9V1278.9ZM1934.3 1256.9H1937.3L1950.4 1281.0V1284.0L1948.0 1285.5H1923.6L1921.2 1284.0V1281.0ZM1948.2 1254.6H1951.2L1964.3 1278.7V1281.7L1961.9 1283.2H1937.5L1935.1 1281.7V1278.7ZM1962.0 1255.1H1965.0L1978.1 1279.2V1282.2L1975.7 1283.7H1951.3L1948.9 1282.2V1279.2ZM1975.9 1255.5H1978.9L1992.0 1279.6V1282.6L1989.6 1284.1H1965.2L1962.8 1282.6V1279.6ZM1989.8 1254.7H1992.8L2005.9 1278.8V1281.8L2003.5 1283.3H1979.1L1976.7 1281.8V1278.8ZM2003.7 1253.6H2006.7L2019.8 1277.7V1280.7L2017.4 1282.2H1993.0L1990.6 1280.7V1277.7ZM2017.7 1253.8H2020.7L2033.8 1277.9V1280.9L2031.4 1282.4H2007.0L2004.6 1280.9V1277.9ZM2031.7 1253.5H2034.7L2047.8 1277.6V1280.6L2045.4 1282.1H2021.0L2018.6 1280.6V1277.6ZM2045.7 1253.8H2048.7L2061.8 1277.9V1280.9L2059.4 1282.4H2035.0L2032.6 1280.9V1277.9ZM2059.7 1251.4H2062.7L2075.8 1275.5V1278.5L2073.4 1280.0H2049.0L2046.6 1278.5V1275.5ZM2073.8 1252.4H2076.8L2089.9 1276.5V1279.5L2087.5 1281.0H2063.1L2060.7 1279.5V1276.5Z" fill="#7e61a1"/>
<line x1="431.7" y1="1310.4" x2="2077" y2="1266.5" stroke="#000" stroke-width="4.9" stroke-linecap="round"/>
<path d="M398.1 1530.5h22.6v22.6h-22.6Z M409.0 1530.5h22.6v22.6h-22.6Z M419.9 1531.4h22.6v22.6h-22.6Z M430.8 1530.9h22.6v22.6h-22.6Z M441.7 1530.9h22.6v22.6h-22.6Z M452.7 1531.3h22.6v22.6h-22.6Z M463.7 1531.5h22.6v22.6h-22.6Z M474.7 1530.6h22.6v22.6h-22.6Z M485.7 1530.8h22.6v22.6h-22.6Z M496.7 1530.6h22.6v22.6h-22.6Z M507.8 1530.6h22.6v22.6h-22.6Z M518.9 1530.9h22.6v22.6h-22.6Z M530.0 1530.3h22.6v22.6h-22.6Z M541.1 1530.5h22.6v22.6h-22.6Z M552.3 1530.3h22.6v22.6h-22.6Z M563.5 1531.2h22.6v22.6h-22.6Z M574.7 1530.7h22.6v22.6h-22.6Z M585.9 1531.0h22.6v22.6h-22.6Z M597.2 1531.1h22.6v22.6h-22.6Z M608.4 1529.6h22.6v22.6h-22.6Z M619.7 1530.2h22.6v22.6h-22.6Z M631.1 1530.9h22.6v22.6h-22.6Z M642.4 1530.7h22.6v22.6h-22.6Z M653.8 1529.2h22.6v22.6h-22.6Z M665.1 1529.1h22.6v22.6h-22.6Z M676.6 1529.7h22.6v22.6h-22.6Z M688.0 1528.9h22.6v22.6h-22.6Z M699.5 1529.2h22.6v22.6h-22.6Z M710.9 1528.9h22.6v22.6h-22.6Z M722.4 1530.0h22.6v22.6h-22.6Z M734.0 1530.2h22.6v22.6h-22.6Z M745.5 1530.4h22.6v22.6h-22.6Z M757.1 1528.8h22.6v22.6h-22.6Z M768.7 1529.9h22.6v22.6h-22.6Z M780.3 1529.7h22.6v22.6h-22.6Z M791.9 1528.7h22.6v22.6h-22.6Z M803.6 1530.1h22.6v22.6h-22.6Z M815.3 1530.2h22.6v22.6h-22.6Z M827.0 1528.7h22.6v22.6h-22.6Z M838.7 1530.1h22.6v22.6h-22.6Z M850.5 1528.9h22.6v22.6h-22.6Z M862.3 1529.1h22.6v22.6h-22.6Z M874.1 1530.0h22.6v22.6h-22.6Z M885.9 1529.7h22.6v22.6h-22.6Z M897.8 1528.3h22.6v22.6h-22.6Z M909.7 1528.8h22.6v22.6h-22.6Z M921.6 1528.9h22.6v22.6h-22.6Z M933.5 1528.5h22.6v22.6h-22.6Z M945.4 1528.1h22.6v22.6h-22.6Z M957.4 1528.3h22.6v22.6h-22.6Z M969.4 1529.1h22.6v22.6h-22.6Z M981.4 1527.6h22.6v22.6h-22.6Z M993.4 1528.7h22.6v22.6h-22.6Z M1005.5 1528.4h22.6v22.6h-22.6Z M1017.6 1527.5h22.6v22.6h-22.6Z M1029.7 1528.1h22.6v22.6h-22.6Z M1041.9 1528.6h22.6v22.6h-22.6Z M1054.0 1528.3h22.6v22.6h-22.6Z M1066.2 1527.4h22.6v22.6h-22.6Z M1078.4 1529.2h22.6v22.6h-22.6Z M1090.6 1528.7h22.6v22.6h-22.6Z M1102.9 1529.1h22.6v22.6h-22.6Z M1115.2 1527.3h22.6v22.6h-22.6Z M1127.5 1527.5h22.6v22.6h-22.6Z M1139.8 1527.0h22.6v22.6h-22.6Z M1152.2 1528.5h22.6v22.6h-22.6Z M1164.5 1527.4h22.6v22.6h-22.6Z M1176.9 1527.1h22.6v22.6h-22.6Z M1189.4 1527.6h22.6v22.6h-22.6Z M1201.8 1528.5h22.6v22.6h-22.6Z M1214.3 1528.3h22.6v22.6h-22.6Z M1226.8 1527.1h22.6v22.6h-22.6Z M1239.3 1526.9h22.6v22.6h-22.6Z M1251.8 1528.3h22.6v22.6h-22.6Z M1264.4 1527.6h22.6v22.6h-22.6Z M1277.0 1527.8h22.6v22.6h-22.6Z M1289.6 1526.5h22.6v22.6h-22.6Z M1302.2 1526.4h22.6v22.6h-22.6Z M1314.9 1527.6h22.6v22.6h-22.6Z M1327.6 1527.1h22.6v22.6h-22.6Z M1340.3 1526.3h22.6v22.6h-22.6Z M1353.1 1528.0h22.6v22.6h-22.6Z M1365.8 1527.3h22.6v22.6h-22.6Z M1378.6 1527.6h22.6v22.6h-22.6Z M1391.4 1526.1h22.6v22.6h-22.6Z M1404.2 1527.6h22.6v22.6h-22.6Z M1417.1 1526.0h22.6v22.6h-22.6Z M1430.0 1527.5h22.6v22.6h-22.6Z M1442.9 1526.6h22.6v22.6h-22.6Z M1455.8 1526.4h22.6v22.6h-22.6Z M1468.8 1526.7h22.6v22.6h-22.6Z M1481.8 1527.4h22.6v22.6h-22.6Z M1494.8 1526.1h22.6v22.6h-22.6Z M1507.8 1525.7h22.6v22.6h-22.6Z M1520.9 1526.5h22.6v22.6h-22.6Z M1533.9 1525.8h22.6v22.6h-22.6Z M1547.1 1525.5h22.6v22.6h-22.6Z M1560.2 1525.6h22.6v22.6h-22.6Z M1573.3 1525.3h22.6v22.6h-22.6Z M1586.5 1525.6h22.6v22.6h-22.6Z M1599.7 1525.7h22.6v22.6h-22.6Z M1613.0 1525.7h22.6v22.6h-22.6Z M1626.2 1526.5h22.6v22.6h-22.6Z M1639.5 1525.5h22.6v22.6h-22.6Z M1652.8 1525.9h22.6v22.6h-22.6Z M1666.1 1525.2h22.6v22.6h-22.6Z M1679.5 1525.5h22.6v22.6h-22.6Z M1692.9 1524.8h22.6v22.6h-22.6Z M1706.3 1525.2h22.6v22.6h-22.6Z M1719.7 1524.6h22.6v22.6h-22.6Z M1733.1 1526.0h22.6v22.6h-22.6Z M1746.6 1525.6h22.6v22.6h-22.6Z M1760.1 1524.8h22.6v22.6h-22.6Z M1773.6 1525.3h22.6v22.6h-22.6Z M1787.2 1526.2h22.6v22.6h-22.6Z M1800.8 1524.5h22.6v22.6h-22.6Z M1814.4 1525.9h22.6v22.6h-22.6Z M1828.0 1525.0h22.6v22.6h-22.6Z M1841.7 1525.1h22.6v22.6h-22.6Z M1855.3 1525.7h22.6v22.6h-22.6Z M1869.1 1524.8h22.6v22.6h-22.6Z M1882.8 1525.0h22.6v22.6h-22.6Z M1896.5 1525.3h22.6v22.6h-22.6Z M1910.3 1525.8h22.6v22.6h-22.6Z M1924.1 1524.5h22.6v22.6h-22.6Z M1938.0 1525.4h22.6v22.6h-22.6Z M1951.8 1525.1h22.6v22.6h-22.6Z M1965.7 1524.9h22.6v22.6h-22.6Z M1979.6 1524.4h22.6v22.6h-22.6Z M1993.5 1524.2h22.6v22.6h-22.6Z M2007.5 1523.5h22.6v22.6h-22.6Z M2021.5 1523.6h22.6v22.6h-22.6Z M2035.5 1523.5h22.6v22.6h-22.6Z M2049.5 1524.7h22.6v22.6h-22.6Z M2063.6 1523.7h22.6v22.6h-22.6Z" fill="#c04b48"/>
<line x1="404" y1="1543.4" x2="2077" y2="1534.7" stroke="#000" stroke-width="4.9"/>
<rect x="1871.2" y="174.3" width="447.2" height="485" fill="#fff" stroke="#000" stroke-width="2.7"/>
<rect x="1986" y="201" width="23" height="23" rx="1.6" fill="#c04b48"/>
<path d="M1996.0 359.9H1999.0L2011.9 384.5V387.5L2009.5 389.0H1985.4L1983.0 387.5V384.5Z" fill="#7e61a1"/>
<path d="M1982.8 533.8L1995.6 521.0H1999.2L2012.0 533.8V537.4L1999.2 550.2H1995.6L1982.8 537.4Z" fill="#4a7ebb"/>
<path fill-rule="evenodd" d="M819.9 149H1732.1V750.8L1730.1 752.8H817.9V151ZM827.8 157.7V743H1723V157.7Z" fill="#000"/>
<line x1="799" x2="818.6" y1="253.00" y2="253.00" stroke="#000" stroke-width="2.6"/>
<line x1="799" x2="818.6" y1="376.80" y2="376.80" stroke="#000" stroke-width="2.6"/>
<line x1="799" x2="818.6" y1="500.60" y2="500.60" stroke="#000" stroke-width="2.6"/>
<line x1="799" x2="818.6" y1="624.20" y2="624.20" stroke="#000" stroke-width="2.6"/>
<line x1="799" x2="818.6" y1="748.00" y2="748.00" stroke="#000" stroke-width="2.6"/>
<line x1="823.00" x2="823.00" y1="752.4" y2="767.7" stroke="#000" stroke-width="2.6"/>
<line x1="1124.20" x2="1124.20" y1="752.4" y2="767.7" stroke="#000" stroke-width="2.6"/>
<line x1="1426.00" x2="1426.00" y1="752.4" y2="767.7" stroke="#000" stroke-width="2.6"/>
<line x1="1727.30" x2="1727.30" y1="752.4" y2="767.7" stroke="#000" stroke-width="2.6"/>
<path d="M1178.0 569.1L1191.4 555.7H1193.6L1207.0 569.1V571.3L1193.6 584.7H1191.4L1178.0 571.3ZM1180.1 568.8L1193.5 555.4H1195.7L1209.1 568.8V571.0L1195.7 584.4H1193.5L1180.1 571.0ZM1182.2 569.5L1195.6 556.1H1197.8L1211.2 569.5V571.7L1197.8 585.1H1195.6L1182.2 571.7ZM1184.3 569.3L1197.7 555.9H1199.9L1213.3 569.3V571.5L1199.9 584.9H1197.7L1184.3 571.5ZM1186.4 568.8L1199.8 555.4H1202.0L1215.4 568.8V571.0L1202.0 584.4H1199.8L1186.4 571.0ZM1188.5 568.2L1201.9 554.8H1204.1L1217.5 568.2V570.4L1204.1 583.8H1201.9L1188.5 570.4ZM1190.6 567.9L1204.0 554.5H1206.2L1219.6 567.9V570.1L1206.2 583.5H1204.0L1190.6 570.1ZM1192.7 567.8L1206.1 554.4H1208.3L1221.7 567.8V570.0L1208.3 583.4H1206.1L1192.7 570.0ZM1194.8 567.8L1208.2 554.4H1210.4L1223.8 567.8V570.0L1210.4 583.4H1208.2L1194.8 570.0ZM1197.0 567.2L1210.4 553.8H1212.6L1226.0 567.2V569.4L1212.6 582.8H1210.4L1197.0 569.4ZM1199.1 567.3L1212.5 553.9H1214.7L1228.1 567.3V569.5L1214.7 582.9H1212.5L1199.1 569.5ZM1201.2 566.9L1214.6 553.5H1216.8L1230.2 566.9V569.1L1216.8 582.5H1214.6L1201.2 569.1ZM1203.4 567.5L1216.8 554.1H1219.0L1232.4 567.5V569.7L1219.0 583.1H1216.8L1203.4 569.7ZM1205.5 567.4L1218.9 554.0H1221.1L1234.5 567.4V569.6L1221.1 583.0H1218.9L1205.5 569.6ZM1207.7 566.6L1221.1 553.2H1223.3L1236.7 566.6V568.8L1223.3 582.2H1221.1L1207.7 568.8ZM1209.8 566.1L1223.2 552.7H1225.4L1238.8 566.1V568.3L1225.4 581.7H1223.2L1209.8 568.3ZM1212.0 566.7L1225.4 553.3H1227.6L1241.0 566.7V568.9L1227.6 582.3H1225.4L1212.0 568.9ZM1214.2 565.7L1227.6 552.3H1229.8L1243.2 565.7V567.9L1229.8 581.3H1227.6L1214.2 567.9ZM1216.3 565.6L1229.7 552.2H1231.9L1245.3 565.6V567.8L1231.9 581.2H1229.7L1216.3 567.8ZM1218.5 564.9L1231.9 551.5H1234.1L1247.5 564.9V567.1L1234.1 580.5H1231.9L1218.5 567.1ZM1220.7 565.2L1234.1 551.8H1236.3L1249.7 565.2V567.4L1236.3 580.8H1234.1L1220.7 567.4ZM1222.9 565.1L1236.3 551.7H1238.5L1251.9 565.1V567.3L1238.5 580.7H1236.3L1222.9 567.3ZM1225.1 564.9L1238.5 551.5H1240.7L1254.1 564.9V567.1L1240.7 580.5H1238.5L1225.1 567.1ZM1227.2 564.3L1240.6 550.9H1242.8L1256.2 564.3V566.5L1242.8 579.9H1240.6L1227.2 566.5ZM1229.4 564.5L1242.8 551.1H1245.0L1258.4 564.5V566.7L1245.0 580.1H1242.8L1229.4 566.7ZM1231.6 563.7L1245.0 550.3H1247.2L1260.6 563.7V565.9L1247.2 579.3H1245.0L1231.6 565.9ZM1233.8 563.8L1247.2 550.4H1249.4L1262.8 563.8V566.0L1249.4 579.4H1247.2L1233.8 566.0ZM1236.1 563.3L1249.5 549.9H1251.7L1265.1 563.3V565.5L1251.7 578.9H1249.5L1236.1 565.5ZM1238.3 563.5L1251.7 550.1H1253.9L1267.3 563.5V565.7L1253.9 579.1H1251.7L1238.3 565.7ZM1240.5 562.9L1253.9 549.5H1256.1L1269.5 562.9V565.1L1256.1 578.5H1253.9L1240.5 565.1ZM1242.7 562.6L1256.1 549.2H1258.3L1271.7 562.6V564.8L1258.3 578.2H1256.1L1242.7 564.8ZM1244.9 562.7L1258.3 549.3H1260.5L1273.9 562.7V564.9L1260.5 578.3H1258.3L1244.9 564.9ZM1247.2 562.4L1260.6 549.0H1262.8L1276.2 562.4V564.6L1262.8 578.0H1260.6L1247.2 564.6ZM1249.4 562.6L1262.8 549.2H1265.0L1278.4 562.6V564.8L1265.0 578.2H1262.8L1249.4 564.8ZM1251.6 562.4L1265.0 549.0H1267.2L1280.6 562.4V564.6L1267.2 578.0H1265.0L1251.6 564.6ZM1253.9 562.4L1267.3 549.0H1269.5L1282.9 562.4V564.6L1269.5 578.0H1267.3L1253.9 564.6ZM1256.1 562.1L1269.5 548.7H1271.7L1285.1 562.1V564.3L1271.7 577.7H1269.5L1256.1 564.3ZM1258.4 561.9L1271.8 548.5H1274.0L1287.4 561.9V564.1L1274.0 577.5H1271.8L1258.4 564.1ZM1260.7 561.9L1274.1 548.5H1276.2L1289.7 561.9V564.1L1276.2 577.5H1274.1L1260.7 564.1ZM1262.9 561.1L1276.3 547.7H1278.5L1291.9 561.1V563.3L1278.5 576.7H1276.3L1262.9 563.3ZM1265.2 560.8L1278.6 547.4H1280.8L1294.2 560.8V563.0L1280.8 576.4H1278.6L1265.2 563.0ZM1267.5 561.4L1280.9 548.0H1283.1L1296.5 561.4V563.6L1283.1 577.0H1280.9L1267.5 563.6ZM1269.7 560.1L1283.1 546.7H1285.3L1298.7 560.1V562.3L1285.3 575.7H1283.1L1269.7 562.3ZM1272.0 560.6L1285.4 547.2H1287.6L1301.0 560.6V562.8L1287.6 576.2H1285.4L1272.0 562.8ZM1274.3 560.3L1287.7 546.9H1289.9L1303.3 560.3V562.5L1289.9 575.9H1287.7L1274.3 562.5ZM1276.6 559.4L1290.0 546.0H1292.2L1305.6 559.4V561.6L1292.2 575.0H1290.0L1276.6 561.6ZM1278.9 560.1L1292.3 546.7H1294.5L1307.9 560.1V562.3L1294.5 575.7H1292.3L1278.9 562.3ZM1281.2 559.9L1294.6 546.5H1296.8L1310.2 559.9V562.1L1296.8 575.5H1294.6L1281.2 562.1ZM1283.5 559.4L1296.9 546.0H1299.1L1312.5 559.4V561.6L1299.1 575.0H1296.9L1283.5 561.6ZM1285.8 559.3L1299.2 545.9H1301.4L1314.8 559.3V561.5L1301.4 574.9H1299.2L1285.8 561.5ZM1288.1 559.2L1301.5 545.8H1303.7L1317.1 559.2V561.4L1303.7 574.8H1301.5L1288.1 561.4ZM1290.4 558.1L1303.8 544.7H1306.0L1319.4 558.1V560.3L1306.0 573.7H1303.8L1290.4 560.3ZM1292.7 558.4L1306.1 545.0H1308.3L1321.7 558.4V560.6L1308.3 574.0H1306.1L1292.7 560.6ZM1295.1 558.1L1308.5 544.7H1310.7L1324.1 558.1V560.3L1310.7 573.7H1308.5L1295.1 560.3ZM1297.4 558.3L1310.8 544.9H1313.0L1326.4 558.3V560.5L1313.0 573.9H1310.8L1297.4 560.5ZM1299.7 558.0L1313.1 544.6H1315.3L1328.7 558.0V560.2L1315.3 573.6H1313.1L1299.7 560.2ZM1302.1 557.8L1315.5 544.4H1317.7L1331.1 557.8V560.0L1317.7 573.4H1315.5L1302.1 560.0ZM1304.4 557.3L1317.8 543.9H1320.0L1333.4 557.3V559.5L1320.0 572.9H1317.8L1304.4 559.5ZM1306.8 557.5L1320.2 544.1H1322.4L1335.8 557.5V559.7L1322.4 573.1H1320.2L1306.8 559.7ZM1309.1 557.0L1322.5 543.6H1324.7L1338.1 557.0V559.2L1324.7 572.6H1322.5L1309.1 559.2ZM1311.5 556.8L1324.9 543.4H1327.1L1340.5 556.8V559.0L1327.1 572.4H1324.9L1311.5 559.0ZM1313.9 556.0L1327.3 542.6H1329.5L1342.9 556.0V558.2L1329.5 571.6H1327.3L1313.9 558.2ZM1316.2 555.5L1329.6 542.1H1331.8L1345.2 555.5V557.7L1331.8 571.1H1329.6L1316.2 557.7ZM1318.6 555.4L1332.0 542.0H1334.2L1347.6 555.4V557.6L1334.2 571.0H1332.0L1318.6 557.6ZM1321.0 555.4L1334.4 542.0H1336.6L1350.0 555.4V557.6L1336.6 571.0H1334.4L1321.0 557.6ZM1323.4 554.9L1336.8 541.5H1339.0L1352.4 554.9V557.1L1339.0 570.5H1336.8L1323.4 557.1ZM1325.7 555.5L1339.1 542.1H1341.3L1354.7 555.5V557.7L1341.3 571.1H1339.1L1325.7 557.7ZM1328.1 555.0L1341.5 541.6H1343.7L1357.1 555.0V557.2L1343.7 570.6H1341.5L1328.1 557.2ZM1330.5 554.8L1343.9 541.4H1346.1L1359.5 554.8V557.0L1346.1 570.4H1343.9L1330.5 557.0ZM1332.9 554.6L1346.3 541.2H1348.5L1361.9 554.6V556.8L1348.5 570.2H1346.3L1332.9 556.8ZM1335.3 554.4L1348.7 541.0H1350.9L1364.3 554.4V556.6L1350.9 570.0H1348.7L1335.3 556.6ZM1337.7 554.0L1351.1 540.6H1353.3L1366.7 554.0V556.2L1353.3 569.6H1351.1L1337.7 556.2ZM1340.2 553.2L1353.6 539.8H1355.8L1369.2 553.2V555.4L1355.8 568.8H1353.6L1340.2 555.4ZM1342.6 553.9L1356.0 540.5H1358.2L1371.6 553.9V556.1L1358.2 569.5H1356.0L1342.6 556.1ZM1345.0 553.6L1358.4 540.2H1360.6L1374.0 553.6V555.8L1360.6 569.2H1358.4L1345.0 555.8ZM1347.4 553.0L1360.8 539.6H1363.0L1376.4 553.0V555.2L1363.0 568.6H1360.8L1347.4 555.2ZM1349.9 552.9L1363.3 539.5H1365.5L1378.9 552.9V555.1L1365.5 568.5H1363.3L1349.9 555.1ZM1352.3 552.8L1365.7 539.4H1367.9L1381.3 552.8V555.0L1367.9 568.4H1365.7L1352.3 555.0ZM1354.7 551.8L1368.1 538.4H1370.3L1383.7 551.8V554.0L1370.3 567.4H1368.1L1354.7 554.0ZM1357.2 552.4L1370.6 539.0H1372.8L1386.2 552.4V554.6L1372.8 568.0H1370.6L1357.2 554.6ZM1359.6 551.6L1373.0 538.2H1375.2L1388.6 551.6V553.8L1375.2 567.2H1373.0L1359.6 553.8ZM1362.1 551.1L1375.5 537.7H1377.7L1391.1 551.1V553.3L1377.7 566.7H1375.5L1362.1 553.3ZM1364.6 551.1L1378.0 537.7H1380.2L1393.6 551.1V553.3L1380.2 566.7H1378.0L1364.6 553.3ZM1367.0 551.4L1380.4 538.0H1382.6L1396.0 551.4V553.6L1382.6 567.0H1380.4L1367.0 553.6ZM1369.5 550.6L1382.9 537.2H1385.1L1398.5 550.6V552.8L1385.1 566.2H1382.9L1369.5 552.8ZM1372.0 551.0L1385.4 537.6H1387.6L1401.0 551.0V553.2L1387.6 566.6H1385.4L1372.0 553.2ZM1374.5 551.0L1387.9 537.6H1390.1L1403.5 551.0V553.2L1390.1 566.6H1387.9L1374.5 553.2ZM1376.9 550.2L1390.3 536.8H1392.5L1405.9 550.2V552.4L1392.5 565.8H1390.3L1376.9 552.4ZM1379.4 549.8L1392.8 536.4H1395.0L1408.4 549.8V552.0L1395.0 565.4H1392.8L1379.4 552.0ZM1381.9 549.7L1395.3 536.3H1397.5L1410.9 549.7V551.9L1397.5 565.3H1395.3L1381.9 551.9ZM1384.4 549.7L1397.8 536.3H1400.0L1413.4 549.7V551.9L1400.0 565.3H1397.8L1384.4 551.9ZM1386.9 549.5L1400.3 536.1H1402.5L1415.9 549.5V551.7L1402.5 565.1H1400.3L1386.9 551.7ZM1389.4 549.1L1402.8 535.7H1405.0L1418.4 549.1V551.3L1405.0 564.7H1402.8L1389.4 551.3ZM1392.0 548.9L1405.4 535.5H1407.6L1421.0 548.9V551.1L1407.6 564.5H1405.4L1392.0 551.1ZM1394.5 548.0L1407.9 534.6H1410.1L1423.5 548.0V550.2L1410.1 563.6H1407.9L1394.5 550.2ZM1397.0 547.8L1410.4 534.4H1412.6L1426.0 547.8V550.0L1412.6 563.4H1410.4L1397.0 550.0ZM1399.5 547.7L1412.9 534.3H1415.1L1428.5 547.7V549.9L1415.1 563.3H1412.9L1399.5 549.9ZM1402.1 548.0L1415.5 534.6H1417.7L1431.1 548.0V550.2L1417.7 563.6H1415.5L1402.1 550.2ZM1404.6 547.3L1418.0 533.9H1420.2L1433.6 547.3V549.5L1420.2 562.9H1418.0L1404.6 549.5ZM1407.1 547.3L1420.5 533.9H1422.7L1436.1 547.3V549.5L1422.7 562.9H1420.5L1407.1 549.5ZM1409.7 546.4L1423.1 533.0H1425.3L1438.7 546.4V548.6L1425.3 562.0H1423.1L1409.7 548.6ZM1412.2 546.2L1425.6 532.8H1427.8L1441.2 546.2V548.4L1427.8 561.8H1425.6L1412.2 548.4ZM1414.8 546.2L1428.2 532.8H1430.4L1443.8 546.2V548.4L1430.4 561.8H1428.2L1414.8 548.4ZM1417.4 546.5L1430.8 533.1H1433.0L1446.4 546.5V548.7L1433.0 562.1H1430.8L1417.4 548.7ZM1419.9 546.3L1433.3 532.9H1435.5L1448.9 546.3V548.5L1435.5 561.9H1433.3L1419.9 548.5ZM1422.5 546.0L1435.9 532.6H1438.1L1451.5 546.0V548.2L1438.1 561.6H1435.9L1422.5 548.2ZM1425.1 545.3L1438.5 531.9H1440.7L1454.1 545.3V547.5L1440.7 560.9H1438.5L1425.1 547.5ZM1427.7 545.3L1441.1 531.9H1443.3L1456.7 545.3V547.5L1443.3 560.9H1441.1L1427.7 547.5ZM1430.2 545.0L1443.6 531.6H1445.8L1459.2 545.0V547.2L1445.8 560.6H1443.6L1430.2 547.2ZM1432.8 544.7L1446.2 531.3H1448.4L1461.8 544.7V546.9L1448.4 560.3H1446.2L1432.8 546.9ZM1435.4 544.1L1448.8 530.7H1451.0L1464.4 544.1V546.3L1451.0 559.7H1448.8L1435.4 546.3ZM1438.0 544.7L1451.4 531.3H1453.6L1467.0 544.7V546.9L1453.6 560.3H1451.4L1438.0 546.9ZM1440.6 543.7L1454.0 530.3H1456.2L1469.6 543.7V545.9L1456.2 559.3H1454.0L1440.6 545.9ZM1443.2 544.3L1456.6 530.9H1458.8L1472.2 544.3V546.5L1458.8 559.9H1456.6L1443.2 546.5ZM1445.9 544.0L1459.3 530.6H1461.5L1474.9 544.0V546.2L1461.5 559.6H1459.3L1445.9 546.2ZM1448.5 542.7L1461.9 529.3H1464.1L1477.5 542.7V544.9L1464.1 558.3H1461.9L1448.5 544.9ZM1451.1 543.0L1464.5 529.6H1466.7L1480.1 543.0V545.2L1466.7 558.6H1464.5L1451.1 545.2ZM1453.7 543.1L1467.1 529.7H1469.3L1482.7 543.1V545.3L1469.3 558.7H1467.1L1453.7 545.3ZM1456.4 543.1L1469.8 529.7H1472.0L1485.4 543.1V545.3L1472.0 558.7H1469.8L1456.4 545.3ZM1459.0 542.2L1472.4 528.8H1474.6L1488.0 542.2V544.4L1474.6 557.8H1472.4L1459.0 544.4ZM1461.6 541.7L1475.0 528.3H1477.2L1490.6 541.7V543.9L1477.2 557.3H1475.0L1461.6 543.9ZM1464.3 541.4L1477.7 528.0H1479.9L1493.3 541.4V543.6L1479.9 557.0H1477.7L1464.3 543.6ZM1467.0 542.0L1480.4 528.6H1482.6L1496.0 542.0V544.2L1482.6 557.6H1480.4L1467.0 544.2ZM1469.6 540.9L1483.0 527.5H1485.2L1498.6 540.9V543.1L1485.2 556.5H1483.0L1469.6 543.1ZM1472.3 541.1L1485.7 527.7H1487.9L1501.3 541.1V543.3L1487.9 556.7H1485.7L1472.3 543.3ZM1474.9 540.3L1488.3 526.9H1490.5L1503.9 540.3V542.5L1490.5 555.9H1488.3L1474.9 542.5ZM1477.6 540.5L1491.0 527.1H1493.2L1506.6 540.5V542.7L1493.2 556.1H1491.0L1477.6 542.7ZM1480.3 540.7L1493.7 527.3H1495.9L1509.3 540.7V542.9L1495.9 556.3H1493.7L1480.3 542.9ZM1483.0 539.5L1496.4 526.1H1498.6L1512.0 539.5V541.7L1498.6 555.1H1496.4L1483.0 541.7ZM1485.7 540.0L1499.1 526.6H1501.3L1514.7 540.0V542.2L1501.3 555.6H1499.1L1485.7 542.2ZM1488.4 539.4L1501.8 526.0H1504.0L1517.4 539.4V541.6L1504.0 555.0H1501.8L1488.4 541.6ZM1491.1 539.6L1504.5 526.2H1506.7L1520.1 539.6V541.8L1506.7 555.2H1504.5L1491.1 541.8ZM1493.8 539.1L1507.2 525.7H1509.4L1522.8 539.1V541.3L1509.4 554.7H1507.2L1493.8 541.3ZM1496.5 538.3L1509.9 524.9H1512.1L1525.5 538.3V540.5L1512.1 553.9H1509.9L1496.5 540.5ZM1499.2 538.8L1512.6 525.4H1514.8L1528.2 538.8V541.0L1514.8 554.4H1512.6L1499.2 541.0ZM1501.9 538.1L1515.3 524.7H1517.5L1530.9 538.1V540.3L1517.5 553.7H1515.3L1501.9 540.3ZM1504.6 537.3L1518.0 523.9H1520.2L1533.6 537.3V539.5L1520.2 552.9H1518.0L1504.6 539.5ZM1507.4 537.0L1520.8 523.6H1523.0L1536.4 537.0V539.2L1523.0 552.6H1520.8L1507.4 539.2ZM1510.1 537.3L1523.5 523.9H1525.7L1539.1 537.3V539.5L1525.7 552.9H1523.5L1510.1 539.5Z" fill="#20a32e"/>
<line x1="1192" y1="570.6" x2="1524.5" y2="538.4" stroke="#000" stroke-width="4.9" stroke-linecap="round"/>
<rect x="1243" y="146" width="468" height="113.4" fill="#fff" stroke="#000" stroke-width="2.6"/>
<path d="M1381.0 201.1L1393.6 188.5H1397.4L1410.0 201.1V204.9L1397.4 217.5H1393.6L1381.0 204.9Z" fill="#20a32e"/>
</g>
<g>
<text x="160.12" y="94.20" font-size="69.5" textLength="179.58" lengthAdjust="spacingAndGlyphs" font-family='"Liberation Serif", serif'>0.0004</text>
<text x="128.43" y="285.91" font-size="69.5" textLength="211.00" lengthAdjust="spacingAndGlyphs" font-family='"Liberation Serif", serif'>0.00035</text>
<text x="160.12" y="477.62" font-size="69.5" textLength="179.32" lengthAdjust="spacingAndGlyphs" font-family='"Liberation Serif", serif'>0.0003</text>
<text x="128.43" y="669.34" font-size="69.5" textLength="211.00" lengthAdjust="spacingAndGlyphs" font-family='"Liberation Serif", serif'>0.00025</text>
<text x="160.10" y="861.05" font-size="69.5" textLength="181.25" lengthAdjust="spacingAndGlyphs" font-family='"Liberation Serif", serif'>0.0002</text>
<text x="128.45" y="1052.76" font-size="69.5" textLength="209.48" lengthAdjust="spacingAndGlyphs" font-family='"Liberation Serif", serif'>0.00015</text>
<text x="160.14" y="1244.48" font-size="69.5" textLength="178.06" lengthAdjust="spacingAndGlyphs" font-family='"Liberation Serif", serif'>0.0001</text>
<text x="128.43" y="1436.19" font-size="69.5" textLength="211.00" lengthAdjust="spacingAndGlyphs" font-family='"Liberation Serif", serif'>0.00005</text>
<text x="306.08" y="1627.90" font-size="69.5" textLength="33.40" lengthAdjust="spacingAndGlyphs" font-family='"Liberation Serif", serif'>0</text>
<text x="365.06" y="1722.30" font-size="67" textLength="81.37" lengthAdjust="spacingAndGlyphs" font-family='"Liberation Serif", serif'>0.9</text>
<text x="774.66" y="1722.30" font-size="67" textLength="32.43" lengthAdjust="spacingAndGlyphs" font-family='"Liberation Serif", serif'>1</text>
<text x="1141.33" y="1722.30" font-size="67" textLength="78.24" lengthAdjust="spacingAndGlyphs" font-family='"Liberation Serif", serif'>1.1</text>
<text x="1525.35" y="1722.30" font-size="67" textLength="86.25" lengthAdjust="spacingAndGlyphs" font-family='"Liberation Serif", serif'>1.2</text>
<text x="1914.37" y="1722.30" font-size="67" textLength="82.60" lengthAdjust="spacingAndGlyphs" font-family='"Liberation Serif", serif'>1.3</text>
<text x="2302.01" y="1722.30" font-size="67" textLength="81.88" lengthAdjust="spacingAndGlyphs" font-family='"Liberation Serif", serif'>1.4</text>
<text font-size="10" font-family='"Liberation Serif", serif'><tspan x="1158.69" y="1878.00" font-size="72" textLength="38.61" lengthAdjust="spacingAndGlyphs">λ</tspan><tspan x="1196.90" y="1857.70" font-size="50" textLength="23.75" lengthAdjust="spacingAndGlyphs">3</tspan> <tspan x="1237.80" y="1878.00" font-size="72" textLength="106.17" lengthAdjust="spacingAndGlyphs">x10</tspan><tspan x="1345.31" y="1856.20" font-size="50" textLength="16.53" lengthAdjust="spacingAndGlyphs">-</tspan><tspan x="1360.81" y="1857.70" font-size="50" textLength="46.11" lengthAdjust="spacingAndGlyphs">18</tspan> <tspan x="1443.39" y="1878.00" font-size="72" textLength="107.69" lengthAdjust="spacingAndGlyphs">(m)</tspan><tspan x="1550.09" y="1857.70" font-size="50" textLength="23.86" lengthAdjust="spacingAndGlyphs">3</tspan></text>
<text transform="rotate(-90)" font-size="10" font-family='"Liberation Serif", serif'><tspan x="-1001.06" y="120.40" font-size="73" textLength="295.69" lengthAdjust="spacingAndGlyphs">Dielectric</tspan> <tspan x="-688.16" y="120.40" font-size="73" textLength="142.04" lengthAdjust="spacingAndGlyphs">Loss</tspan> <tspan x="-526.92" y="121.40" font-size="75" textLength="21.85" lengthAdjust="spacingAndGlyphs">(</tspan><tspan x="-505.29" y="120.40" font-size="72" textLength="31.58" lengthAdjust="spacingAndGlyphs">ε</tspan><tspan x="-475.01" y="137.20" font-size="48" textLength="13.45" lengthAdjust="spacingAndGlyphs">i</tspan><tspan x="-460.83" y="121.40" font-size="75" textLength="21.60" lengthAdjust="spacingAndGlyphs">)</tspan></text>
<text x="2066.01" y="232.40" font-size="68" textLength="138.98" lengthAdjust="spacingAndGlyphs" font-family='"Liberation Serif", serif'>PC-0</text>
<text x="2066.01" y="394.00" font-size="68" textLength="137.97" lengthAdjust="spacingAndGlyphs" font-family='"Liberation Serif", serif'>PC-4</text>
<text x="2066.01" y="555.30" font-size="68" textLength="138.98" lengthAdjust="spacingAndGlyphs" font-family='"Liberation Serif", serif'>PC-8</text>
<text x="1464.21" y="222.40" font-size="68" textLength="172.06" lengthAdjust="spacingAndGlyphs" font-family='"Liberation Serif", serif'>PC-12</text>
<text x="1027.70" y="386.30" font-size="64" textLength="527.66" lengthAdjust="spacingAndGlyphs" font-family='"Liberation Serif", serif'>y = 0.0003x + 0.0006</text>
<text x="1145.44" y="469.50" font-size="64" textLength="293.52" lengthAdjust="spacingAndGlyphs" font-family='"Liberation Serif", serif'>R² = 0.9967</text>
<text x="1569.80" y="1001.50" font-size="62" textLength="492.78" lengthAdjust="spacingAndGlyphs" font-family='"Liberation Serif", serif'>y = 4E-05x + 7E-05</text>
<text x="1670.02" y="1084.80" font-size="62" textLength="291.13" lengthAdjust="spacingAndGlyphs" font-family='"Liberation Serif", serif'>R² = 0.9921</text>
<text x="1783.30" y="1183.20" font-size="62" textLength="491.68" lengthAdjust="spacingAndGlyphs" font-family='"Liberation Serif", serif'>y = 3E-05x + 5E-05</text>
<text x="1882.21" y="1266.40" font-size="62" textLength="292.16" lengthAdjust="spacingAndGlyphs" font-family='"Liberation Serif", serif'>R² = 0.9935</text>
<text x="1795.00" y="1406.70" font-size="62" textLength="491.08" lengthAdjust="spacingAndGlyphs" font-family='"Liberation Serif", serif'>y = 5E-06x + 1E-05</text>
<text x="1892.61" y="1489.90" font-size="62" textLength="294.38" lengthAdjust="spacingAndGlyphs" font-family='"Liberation Serif", serif'>R² = 0.9868</text>
<text x="578.56" y="271.40" font-size="69.5" textLength="175.58" lengthAdjust="spacingAndGlyphs" font-family='"Liberation Serif", serif'>0.0021</text>
<text x="578.55" y="395.20" font-size="69.5" textLength="176.56" lengthAdjust="spacingAndGlyphs" font-family='"Liberation Serif", serif'>0.0016</text>
<text x="578.54" y="519.00" font-size="69.5" textLength="174.93" lengthAdjust="spacingAndGlyphs" font-family='"Liberation Serif", serif'>0.0011</text>
<text x="579.15" y="642.60" font-size="69.5" textLength="176.46" lengthAdjust="spacingAndGlyphs" font-family='"Liberation Serif", serif'>0.0006</text>
<text x="579.16" y="766.40" font-size="69.5" textLength="175.58" lengthAdjust="spacingAndGlyphs" font-family='"Liberation Serif", serif'>0.0001</text>
<text x="778.85" y="845.60" font-size="67" textLength="86.32" lengthAdjust="spacingAndGlyphs" font-family='"Liberation Sans", sans-serif'>0.4</text>
<text x="1078.98" y="845.60" font-size="67" textLength="89.39" lengthAdjust="spacingAndGlyphs" font-family='"Liberation Sans", sans-serif'>0.8</text>
<text x="1383.06" y="845.60" font-size="67" textLength="88.34" lengthAdjust="spacingAndGlyphs" font-family='"Liberation Sans", sans-serif'>1.2</text>
<text x="1685.34" y="845.60" font-size="67" textLength="86.77" lengthAdjust="spacingAndGlyphs" font-family='"Liberation Sans", sans-serif'>1.6</text>
<text font-size="10" font-family='"Liberation Serif", serif'><tspan x="1097.94" y="917.40" font-size="68" textLength="35.03" lengthAdjust="spacingAndGlyphs">λ</tspan><tspan x="1133.12" y="898.70" font-size="47.5" textLength="22.32" lengthAdjust="spacingAndGlyphs">3</tspan> <tspan x="1171.40" y="917.40" font-size="68" textLength="98.53" lengthAdjust="spacingAndGlyphs">x10</tspan><tspan x="1270.06" y="897.80" font-size="47.5" textLength="13.33" lengthAdjust="spacingAndGlyphs">-</tspan><tspan x="1284.38" y="898.70" font-size="47.5" textLength="43.01" lengthAdjust="spacingAndGlyphs">18</tspan> <tspan x="1360.63" y="917.40" font-size="68" textLength="96.78" lengthAdjust="spacingAndGlyphs">(m)</tspan><tspan x="1457.95" y="898.70" font-size="47.5" textLength="24.34" lengthAdjust="spacingAndGlyphs">3</tspan></text>
<text transform="rotate(-90)" font-size="10" font-family='"Liberation Sans", sans-serif'><tspan x="-860.02" y="543.80" font-size="70" textLength="288.82" lengthAdjust="spacingAndGlyphs">Dielectric</tspan> <tspan x="-551.86" y="543.80" font-size="70" textLength="137.93" lengthAdjust="spacingAndGlyphs">Loss</tspan> <tspan x="-384.17" y="543.80" font-size="70" textLength="19.63" lengthAdjust="spacingAndGlyphs">(</tspan><tspan x="-361.11" y="543.80" font-size="70" textLength="31.32" lengthAdjust="spacingAndGlyphs">ε</tspan><tspan x="-330.72" y="561.00" font-size="48" textLength="8.96" lengthAdjust="spacingAndGlyphs">i</tspan><tspan x="-318.20" y="543.80" font-size="70" textLength="20.12" lengthAdjust="spacingAndGlyphs">)</tspan></text>
</g>
</svg>
</body></html>
